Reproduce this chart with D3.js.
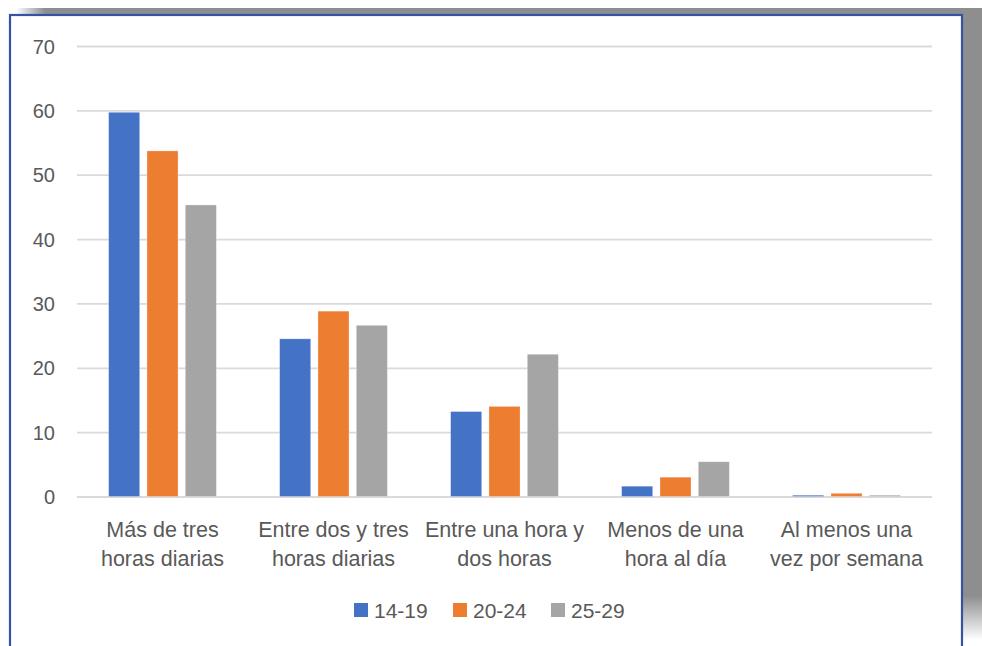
<!DOCTYPE html>
<html>
<head>
<meta charset="utf-8">
<script src="https://cdn.jsdelivr.net/npm/d3@7"></script>
<style>
  html, body { margin: 0; padding: 0; background: #ffffff; }
  svg { display: block; }
  text { font-family: "Liberation Sans", Arial, sans-serif; fill: #595959; }
</style>
</head>
<body>
<svg id="chart" width="982" height="646"></svg>
<script>
const categories = [
  ["Más de tres", "horas diarias"],
  ["Entre dos y tres", "horas diarias"],
  ["Entre una hora y", "dos horas"],
  ["Menos de una", "hora al día"],
  ["Al menos una", "vez por semana"]
];
const seriesNames = ["14-19", "20-24", "25-29"];
const values1419 = [59.7, 24.5, 13.2, 1.6, 0.2];
const values2024 = [53.7, 28.8, 14.0, 3.0, 0.5];
const values2529 = [45.3, 26.6, 22.1, 5.4, 0.2];
const colors = ["#4472C4", "#ED7D31", "#A5A5A5"];
const yTicks = [0, 10, 20, 30, 40, 50, 60, 70];

const seriesValues = [values1419, values2024, values2529];
const svg = d3.select("#chart");

// frame, shadow
const defs = svg.append("defs");
const gTop = defs.append("linearGradient").attr("id", "shTop").attr("x1", "0").attr("x2", "1").attr("y1", "0").attr("y2", "0");
gTop.append("stop").attr("offset", "0").attr("stop-color", "#8e8e8e").attr("stop-opacity", 0);
gTop.append("stop").attr("offset", "0.03").attr("stop-color", "#8e8e8e").attr("stop-opacity", 1);
gTop.append("stop").attr("offset", "1").attr("stop-color", "#8e8e8e").attr("stop-opacity", 1);
const gRight = defs.append("linearGradient").attr("id", "shRight").attr("x1", "0").attr("x2", "0").attr("y1", "0").attr("y2", "1");
gRight.append("stop").attr("offset", "0").attr("stop-color", "#8e8e8e").attr("stop-opacity", 1);
gRight.append("stop").attr("offset", "0.93").attr("stop-color", "#8e8e8e").attr("stop-opacity", 1);
gRight.append("stop").attr("offset", "1").attr("stop-color", "#8e8e8e").attr("stop-opacity", 0);

svg.append("rect").attr("x", 16).attr("y", 8).attr("width", 966).attr("height", 8).attr("fill", "url(#shTop)");
svg.append("rect").attr("x", 962).attr("y", 8).attr("width", 20).attr("height", 632).attr("fill", "url(#shRight)");
svg.append("rect").attr("x", 10).attr("y", 15).attr("width", 952).attr("height", 650)
  .attr("fill", "#ffffff").attr("stroke", "#3553A6").attr("stroke-width", 2.2);

const margin = { left: 77, right: 932, top: 46, bottom: 496.5 };

const y = d3.scaleLinear().domain([0, 70]).range([margin.bottom, margin.top]);
const x0 = d3.scaleBand().domain(d3.range(categories.length)).range([margin.left, margin.right])
  .paddingInner(0.37).paddingOuter(0.185);
const x1 = d3.scaleBand().domain(d3.range(seriesNames.length)).range([0, x0.bandwidth()]).paddingInner(0.19);

// gridlines
const yAxis = d3.axisLeft(y).tickValues(yTicks).tickSize(-(margin.right - margin.left)).tickPadding(22);
const ga = svg.append("g").attr("transform", `translate(${margin.left},0)`).call(yAxis);
ga.select(".domain").remove();
ga.selectAll(".tick line").attr("stroke", "#DADADA").attr("stroke-width", 1.8);
ga.selectAll(".tick text").attr("font-size", 20).style("fill", "#595959").attr("dy", "0.36em")
  .attr("font-family", "\"Liberation Sans\", Arial, sans-serif");

// bars
const groups = svg.append("g").selectAll("g").data(categories).join("g")
  .attr("transform", (d, i) => `translate(${x0(i)},0)`);
groups.selectAll("rect").data((d, i) => seriesValues.map((s, k) => ({ k, v: s[i] }))).join("rect")
  .attr("x", d => x1(d.k))
  .attr("width", x1.bandwidth())
  .attr("y", d => y(d.v))
  .attr("height", d => Math.max(0.8, y(0) - y(d.v)))
  .attr("fill", d => colors[d.k])
  .attr("stroke", "#ffffff").attr("stroke-opacity", 0.35).attr("stroke-width", 0.8);

// category labels
const xAxis = d3.axisBottom(x0).tickSize(0).tickFormat("");
svg.append("g").attr("transform", `translate(0,${margin.bottom})`).call(xAxis).select(".domain").remove();
const lab = svg.append("g").selectAll("text").data(categories).join("text")
  .attr("x", (d, i) => x0(i) + x0.bandwidth() / 2)
  .attr("y", 537)
  .attr("text-anchor", "middle")
  .attr("font-size", 21.5);
lab.selectAll("tspan").data(d => d).join("tspan")
  .attr("x", function () { return d3.select(this.parentNode).attr("x"); })
  .attr("dy", (d, j) => j === 0 ? 0 : 29)
  .text(d => d);

// legend
const legendX = [354, 453, 551];
const lg = svg.append("g").selectAll("g").data(seriesNames).join("g")
  .attr("transform", (d, i) => `translate(${legendX[i]},603)`);
lg.append("rect").attr("width", 14).attr("height", 14).attr("fill", (d, i) => colors[i]);
lg.append("text").attr("x", 20).attr("y", 7).attr("dy", "0.36em").attr("font-size", 21).text(d => d);
</script>
</body>
</html>
